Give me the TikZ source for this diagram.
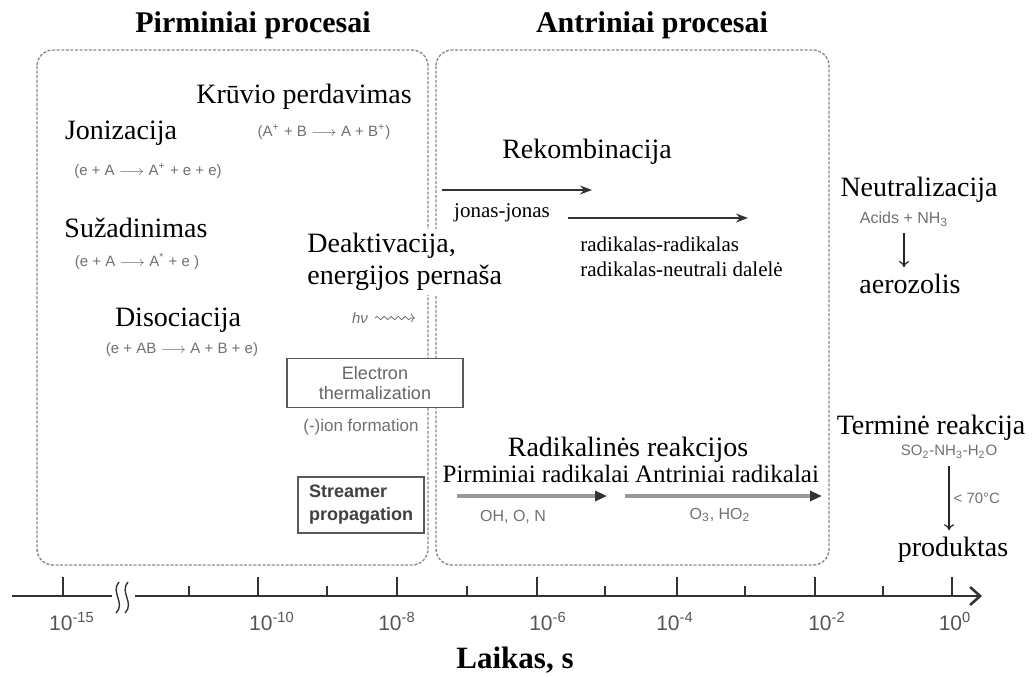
\documentclass[tikz,border=0pt]{standalone}
\usepackage{fontspec}
\setmainfont{Liberation Serif}
\setsansfont{Liberation Sans}
\usepackage{xcolor}
\usetikzlibrary{arrows.meta,decorations.pathmorphing}
\definecolor{formgray}{HTML}{707070}
\definecolor{boxgray}{HTML}{8A8A8A}
\definecolor{axisgray}{HTML}{333333}
\definecolor{labgray}{HTML}{555555}

\tikzset{
  big/.style={font=\fontsize{14}{16}\selectfont},
  small/.style={font=\fontsize{10.5}{12.5}\selectfont},
  mid/.style={font=\fontsize{12.5}{14}\selectfont},
  ttl/.style={font=\fontsize{15}{17}\selectfont\bfseries},
  formula/.style={font=\sffamily\fontsize{7.5}{9}\selectfont, text=formgray},
  procbox/.style={draw=boxgray, line width=0.7pt, dash pattern=on 1.5pt off 0.8pt, rounded corners=8pt},
  thermbox/.style={draw=black!65, fill=white, line width=0.6pt, minimum width=88pt, minimum height=24.5pt,
    align=center, text=black!60, font=\sffamily\fontsize{9}{10}\selectfont},
  strbox/.style={draw=black!65, fill=white, line width=0.6pt, minimum width=63pt, minimum height=28pt,
    align=left, text=black!75, font=\sffamily\bfseries\fontsize{9}{11.5}\selectfont},
  recarrow/.style={draw=black!80, line width=0.8pt, -{Stealth[length=6pt,width=4.5pt]}},
  radarrow/.style={draw=black!40, line width=1.6pt, -{Triangle[length=6pt,width=5pt,color=black!80]}},
  downarrow/.style={draw=black!85, line width=0.6pt, -{To[length=3pt,width=5pt]}},
  axisline/.style={draw=axisgray, line width=1.3pt},
  axlabel/.style={font=\sffamily\fontsize{10.5}{12}\selectfont, text=labgray, anchor=base},
}

\begin{document}
\begin{tikzpicture}[x=0.5pt,y=-0.5pt]
  \useasboundingbox (0,0) rectangle (1036,676);

  \node[ttl] (pirm) at (253,25) {Pirminiai procesai};
  \node[ttl] (antr) at (652,25) {Antriniai procesai};
  \draw[procbox] (37,50) rectangle (428,565);
  \draw[procbox] (436,50) rectangle (829,565);

  \node[big] (kruv) at (304,97) {Krūvio perdavimas};
  \node[formula] (kruvf) at (324,132) {(A\textsuperscript{+} + B $\longrightarrow$ A + B\textsuperscript{+})};
  \node[big] (joni) at (121,133) {Jonizacija};
  \node[formula] (jonif) at (148,171) {(e + A $\longrightarrow$ A\textsuperscript{+} + e + e)};
  \node[big] (suza) at (136,228) {Sužadinimas};
  \node[formula] (suzaf) at (137,261) {(e + A $\longrightarrow$ A\textsuperscript{*} + e )};
  \node[big] (disoc) at (178,320) {Disociacija};
  \node[formula] (disocf) at (182,350) {(e + AB $\longrightarrow$ A + B + e)};
  \node[big, align=left, anchor=west, inner sep=2pt, fill=white] (deakt) at (303,262) {Deaktivacija,\\energijos pernaša};
  \node[formula, font=\sffamily\itshape\fontsize{7.5}{9}\selectfont] (hv) at (360,318) {hν};
  \coordinate (hvend) at (415,318);
  \draw[decorate, decoration={snake,amplitude=0.8pt,segment length=3.5pt,post length=2pt},
    draw=formgray, -{To[length=2pt]}] (hv.east) -- (hvend);

  \node[thermbox] (therm) at (375,383) {Electron\\thermalization};
  \node[formula, font=\sffamily\fontsize{8.5}{10}\selectfont] (ionf) at (361,427) {(-)ion formation};
  \node[strbox] (stream) at (361,505) {Streamer\\propagation};

  \node[big] (rekomb) at (587,152) {Rekombinacija};
  \coordinate (r1s) at (442,190);
  \coordinate (r1e) at (592,190);
  \draw[recarrow] (r1s) -- (r1e);
  \node[small] (jj) at (502,213) {jonas-jonas};
  \coordinate (r2s) at (568,218);
  \coordinate (r2e) at (748,218);
  \draw[recarrow] (r2s) -- (r2e);
  \node[small, align=left, anchor=west, inner sep=0pt] (radrad) at (580,257) {radikalas-radikalas\\radikalas-neutrali dalelė};

  \node[big] (radreak) at (628,450) {Radikalinės reakcijos};
  \node[mid] (pirmrad) at (536,474) {Pirminiai radikalai};
  \node[mid] (antrad) at (727,474) {Antriniai radikalai};
  \coordinate (p1s) at (457,496);
  \coordinate (p1e) at (607,496);
  \coordinate (p2s) at (625,496);
  \coordinate (p2e) at (822,496);
  \draw[radarrow] (p1s) -- (p1e);
  \draw[radarrow] (p2s) -- (p2e);
  \node[formula, font=\sffamily\fontsize{8}{9}\selectfont] (ohon) at (513,517) {OH, O, N};
  \node[formula, font=\sffamily\fontsize{8}{9}\selectfont] (o3) at (720,515) {O\textsubscript{3}, HO\textsubscript{2}};

  \node[big] (neut) at (919,190) {Neutralizacija};
  \node[formula, font=\sffamily\fontsize{8}{9}\selectfont] (acids) at (904,219) {Acids + NH\textsubscript{3}};
  \node[big] (aero) at (910,284) {aerozolis};
  \draw[downarrow] (acids) -- (acids |- aero.north);

  \node[big] (term) at (931,428) {Terminė reakcija};
  \node[formula] (so2) at (949,452) {SO\textsubscript{2}-NH\textsubscript{3}-H\textsubscript{2}O};
  \node[big] (prod) at (953,550) {produktas};
  \draw[downarrow] (so2) -- (so2 |- prod.north)
    node[midway, right, formula, inner sep=2pt] (temp) {< 70\textdegree C};

  \coordinate (ax0) at (12,596);
  \coordinate (axb1) at (112,596);
  \coordinate (axb2) at (135,596);
  \coordinate (ax1) at (982,596);
  \draw[axisline] (ax0) -- (axb1);
  \draw[axisline, -{Straight Barb[length=5pt,width=9pt]}] (axb2) -- (ax1);
  \draw[draw=axisgray, line width=0.7pt] (119,582) .. controls (110,592) and (126,603) .. (116,613);
  \draw[draw=axisgray, line width=0.7pt] (128,582) .. controls (119,592) and (135,603) .. (125,613);
  \foreach \t/\l/\e in {63/72/-15, 258/272/-10, 397/397/-8, 537/548/-6, 677/675/-4, 815/827/-2, 952/955/0} {
    \draw[draw=axisgray, line width=0.7pt] (\t,577) -- (\t,595);
    \node[axlabel] (lab\t) at (\l,630) {10\textsuperscript{\e}};
  }
  \foreach \t in {189,327,467,605,745,883}
    \draw[draw=axisgray, line width=0.7pt] (\t,586) -- (\t,595);
  \node[font=\fontsize{15.5}{18}\selectfont\bfseries] (laikas) at (515,660) {Laikas, s};
\end{tikzpicture}
\end{document}
